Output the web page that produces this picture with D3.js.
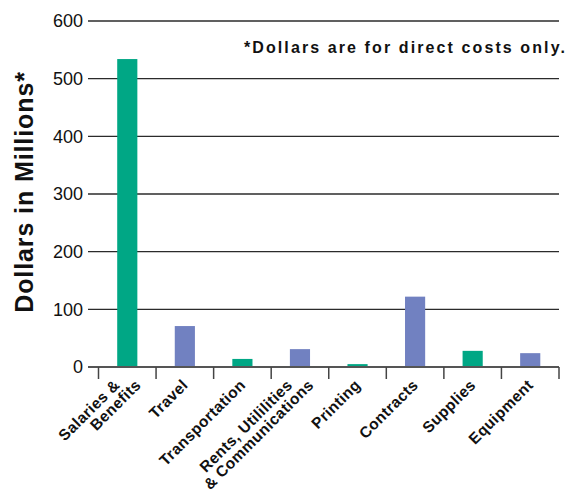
<!DOCTYPE html>
<html>
<head>
<meta charset="utf-8">
<script src="https://cdn.jsdelivr.net/npm/d3@7"></script>
<style>
  html, body { margin: 0; padding: 0; background: #fff; }
  svg { display: block; font-family: "Liberation Sans", Arial, sans-serif; }
</style>
</head>
<body>
<svg id="chart" width="569" height="492"></svg>
<script>
// Direct-cost categories (each entry is the label's lines)
const categories = [
  ["Salaries &", "Benefits"],
  ["Travel"],
  ["Transportation"],
  ["Rents, Utililities", "& Communications"],
  ["Printing"],
  ["Contracts"],
  ["Supplies"],
  ["Equipment"]
];
// Dollars in millions per category
const values = [534, 71, 14, 31, 5, 122, 28, 24];
// Colour group per category
const groups = ["a", "b", "a", "b", "a", "b", "a", "b"];
const yTicks = [0, 100, 200, 300, 400, 500, 600];
const note = "*Dollars are for direct costs only.";
const yTitle = "Dollars in Millions*";

const colors = { a: "#00a785", b: "#7181c1" };

const svg = d3.select("#chart");
const plot = { gridLeft: 88, left: 98.5, right: 559, top: 21, bottom: 367 };

const keys = categories.map((c, i) => i);
const x = d3.scaleBand().domain(keys).range([plot.left, plot.right]);
const y = d3.scaleLinear().domain([0, 600]).range([plot.bottom, plot.top]);

// value labels on the left
const yAxis = d3.axisLeft(y).tickValues(yTicks).tickSize(0).tickPadding(5);
const gy = svg.append("g").attr("transform", `translate(${plot.gridLeft},0)`).call(yAxis);
gy.select(".domain").remove();
gy.selectAll("text").attr("font-size", 18).attr("fill", "#111")
  .attr("font-family", "Liberation Sans, Arial, sans-serif");

// horizontal gridlines
svg.append("g").selectAll("line").data(yTicks.filter(t => t > 0)).join("line")
  .attr("x1", plot.gridLeft).attr("x2", plot.right)
  .attr("y1", d => y(d)).attr("y2", d => y(d))
  .attr("stroke", "#2b2b2b").attr("stroke-width", 1.3);

// bars
const bw = x.bandwidth() * 0.35;
svg.append("g").selectAll("rect").data(values).join("rect")
  .attr("x", (d, i) => x(i) + (x.bandwidth() - bw) / 2)
  .attr("width", bw)
  .attr("y", d => y(d))
  .attr("height", d => y(0) - y(d))
  .attr("fill", (d, i) => colors[groups[i]]);

// baseline and category separators
svg.append("line")
  .attr("x1", plot.gridLeft).attr("x2", plot.right)
  .attr("y1", y(0)).attr("y2", y(0))
  .attr("stroke", "#555").attr("stroke-width", 2);

const bounds = keys.map(i => x(i)).concat([plot.right]);
svg.append("g").selectAll("line").data(bounds).join("line")
  .attr("x1", d => d).attr("x2", d => d)
  .attr("y1", y(0)).attr("y2", y(0) + 12)
  .attr("stroke", "#444").attr("stroke-width", 1.5);

// rotated category labels
const lineH = 15;
const lab = svg.append("g").selectAll("g").data(categories).join("g")
  .attr("transform", (d, i) => `translate(${x(i) + x.bandwidth() / 2 + 4},386) rotate(-45)`);
lab.each(function (lines) {
  const g = d3.select(this);
  const n = lines.length;
  lines.forEach((t, j) => {
    const off = (j - (n - 1) / 2) * lineH;
    g.append("text")
      .attr("x", off).attr("y", off)
      .attr("text-anchor", "end")
      .attr("font-size", 15.5).attr("font-weight", "bold").attr("fill", "#111")
      .attr("letter-spacing", 0.4)
      .text(t);
  });
});

// axis title
svg.append("text")
  .attr("transform", "translate(33,192) rotate(-90)")
  .attr("text-anchor", "middle")
  .attr("font-size", 25).attr("font-weight", "bold").attr("fill", "#111")
  .attr("letter-spacing", 0.9)
  .text(yTitle);

// footnote
svg.append("text")
  .attr("x", 567).attr("y", 53)
  .attr("text-anchor", "end")
  .attr("font-size", 16).attr("font-weight", "bold").attr("fill", "#111")
  .attr("letter-spacing", 2.1)
  .text(note);
</script>
</body>
</html>
